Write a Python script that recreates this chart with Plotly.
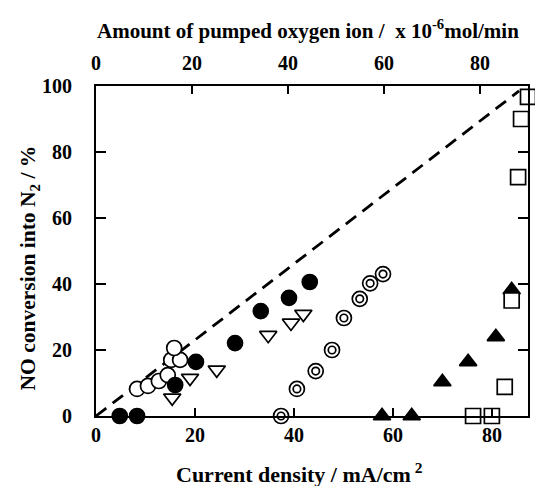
import plotly.graph_objects as go

# Filled circles
fc_x = [4.8, 8.3, 16.0, 20.2, 28.1, 33.3, 39.0, 43.2]
fc_y = [0, 0, 9.4, 16.4, 22.1, 31.8, 35.8, 40.6]
# Open circles
oc_x = [8.3, 10.5, 12.7, 14.5, 15.2, 17.0, 15.8]
oc_y = [8.2, 9.1, 10.6, 12.4, 17.0, 17.0, 20.6]
# Open down triangles
td_x = [15.4, 19.0, 24.4, 34.8, 39.4, 41.9]
td_y = [5.5, 11.5, 14.0, 24.5, 28.2, 30.9]
# Double circles
dc_x = [37.4, 40.6, 44.4, 47.7, 50.1, 53.3, 55.4, 58.0]
dc_y = [0, 8.2, 13.6, 20.0, 29.7, 35.5, 40.2, 43.0]
# Filled up triangles
tu_x = [57.8, 63.8, 70.0, 75.2, 80.8, 84.0]
tu_y = [0, 0, 10.3, 16.4, 24.0, 38.2]
# Open squares
sq_x = [76.2, 80.0, 82.6, 84.0, 85.3, 85.9, 87.3]
sq_y = [0, 0, 8.8, 35.0, 72.4, 90.0, 96.7]
# Theoretical line
ideal_x = [0, 85.5]
ideal_y = [0, 98.5]

tick_vals = [0, 20, 40, 60, 80]
y_tick_vals = [0, 20, 40, 60, 80, 100]

FONT = "Liberation Serif"
fig = go.Figure()

fig.add_trace(go.Scatter(x=ideal_x, y=ideal_y, mode="lines",
                         line=dict(color="black", width=2.8, dash="13px,8px"),
                         showlegend=False, cliponaxis=False))

def add(x, y, symbol, size, fill, lw=1.7):
    fig.add_trace(go.Scatter(x=x, y=y, mode="markers", cliponaxis=False,
                             marker=dict(symbol=symbol, size=size, color=fill,
                                         line=dict(color="black", width=lw)),
                             showlegend=False))

add(oc_x, oc_y, "circle", 15, "white")
add(fc_x, fc_y, "circle", 15, "black")
add(td_x, td_y, "triangle-down", 15, "white")
add(dc_x, dc_y, "circle", 15, "white")
add(dc_x, dc_y, "circle", 7.5, "white")
add(tu_x, tu_y, "triangle-up", 15, "black")
add(sq_x, sq_y, "square", 15, "white")

axis_common = dict(showgrid=False, zeroline=False, linecolor="black", linewidth=2,
                   ticks="inside", tickcolor="black", tickwidth=2,
                   tickfont=dict(family=FONT, size=20, color="black"))

fig.update_layout(
    width=535, height=478,
    margin=dict(l=88, r=15, t=78, b=70),
    paper_bgcolor="white", plot_bgcolor="white",
    font=dict(family=FONT, color="black"),
    xaxis=dict(range=[0, 87.3], tickvals=tick_vals,
               ticktext=[f"<b>{v}</b>" for v in tick_vals],
               ticklen=8, mirror=True, ticklabelstandoff=0, **axis_common),
    xaxis2=dict(range=[0, 90], tickvals=tick_vals, overlaying="x", side="top",
                ticktext=[f"<b>{v}</b>" for v in tick_vals],
                ticklen=8, ticklabelstandoff=6, **axis_common),
    yaxis=dict(range=[0, 100], tickvals=y_tick_vals,
               ticktext=[f"<b>{v}</b>" for v in y_tick_vals],
               ticklen=10, mirror="ticks", ticklabelstandoff=18, **axis_common),
    annotations=[
        dict(text="<b>Current density / mA/cm<sup> 2</sup></b>", xref="paper", yref="paper",
             x=0.472, y=-0.174, showarrow=False, font=dict(family=FONT, size=22),
             xanchor="center", yanchor="middle"),
        dict(text="<b>Amount of pumped oxygen ion /  x 10<sup>-6</sup>mol/min</b>", xref="paper", yref="paper",
             x=0.49, y=1.17, showarrow=False, font=dict(family=FONT, size=21),
             xanchor="center", yanchor="middle"),
        dict(text="<b>NO conversion into N<sub>2</sub> / %</b>", xref="paper", yref="paper",
             x=-0.153, y=0.45, showarrow=False, textangle=-90, font=dict(family=FONT, size=21.5),
             xanchor="center", yanchor="middle"),
    ],
)
# invisible trace to activate the top axis
fig.add_trace(go.Scatter(x=[0], y=[0], xaxis="x2", mode="markers",
                         marker=dict(opacity=0), showlegend=False, hoverinfo="skip"))

fig.write_html("out.html")
